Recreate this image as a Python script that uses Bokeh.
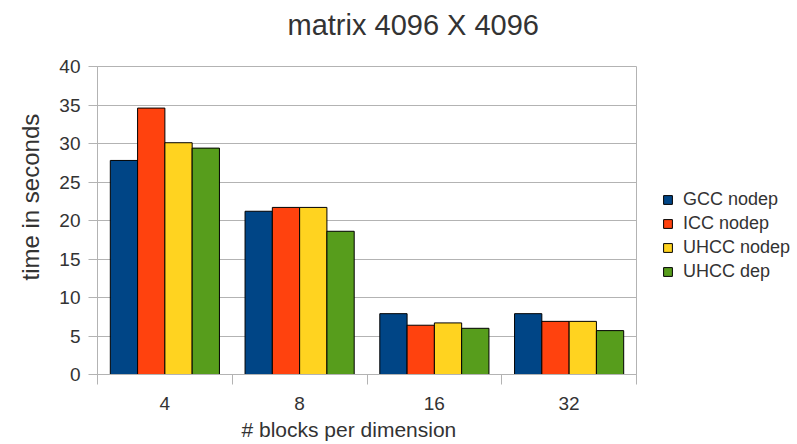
import numpy as np
from bokeh.plotting import figure
from bokeh.models import (ColumnDataSource, Legend, LegendItem, FixedTicker, Range1d,
                          Title, LinearAxis)
from bokeh.embed import file_html
from bokeh.resources import INLINE

categories = ["4", "8", "16", "32"]
gcc_nodep = [27.8, 21.2, 7.9, 7.9]
icc_nodep = [34.6, 21.7, 6.4, 6.9]
uhcc_nodep = [30.1, 21.7, 6.7, 6.9]
uhcc_dep = [29.4, 18.6, 6.0, 5.7]
series_names = ["GCC nodep", "ICC nodep", "UHCC nodep", "UHCC dep"]
series_values = [gcc_nodep, icc_nodep, uhcc_nodep, uhcc_dep]
colors = ["#004586", "#ff420e", "#ffd320", "#579d1c"]
y_ticks = list(range(0, 41, 5))
chart_title = "matrix 4096 X 4096"

FONT = "Liberation Sans"
TEXT = "#333333"
GRID = "#b3b3b3"

p = figure(frame_width=539, frame_height=308,
           x_range=Range1d(0, len(categories)), y_range=Range1d(0, 40),
           output_backend="svg", toolbar_location=None,
           min_border_left=97, min_border_top=66, min_border_bottom=70,
           min_border_right=161)
p.title_location = None
p.background_fill_color = "white"
p.border_fill_color = "white"
p.outline_line_color = GRID
p.outline_line_width = 1

# invisible spacer next to the frame, then the chart title outside it
spacer = LinearAxis(ticker=FixedTicker(ticks=[2.0], minor_ticks=[]),
                    major_label_overrides={2.0: ""},
                    axis_line_color=None, major_tick_line_color=None,
                    minor_tick_line_color=None, major_tick_out=17, major_tick_in=0,
                    minor_tick_out=0, minor_tick_in=0, major_label_standoff=0,
                    major_label_text_font_size="1px", major_label_text_alpha=0)
p.add_layout(spacer, "above")
main_title = Title(text=chart_title, align="left", offset=190, vertical_align="top",
                   text_font=FONT, text_font_size="29px", text_font_style="normal",
                   text_color=TEXT, standoff=14)
p.add_layout(main_title, "above")

bar_w = 0.2025
offsets = [-1.5 * bar_w, -0.5 * bar_w, 0.5 * bar_w, 1.5 * bar_w]
centers = np.arange(len(categories)) + 0.5
items = []
for name, vals, col, off in zip(series_names, series_values, colors, offsets):
    src = ColumnDataSource(dict(x=centers + off, top=vals))
    r = p.vbar(x="x", top="top", width=bar_w, bottom=0, source=src,
               fill_color=col, line_color="#000000", line_width=1)
    items.append(LegendItem(label=name, renderers=[r]))

# x axis
xax = p.below[0]
xax.ticker = FixedTicker(ticks=list(centers), minor_ticks=list(range(len(categories) + 1)))
xax.major_label_overrides = {float(c): lab for c, lab in zip(centers, categories)}
xax.major_tick_line_color = None
xax.major_tick_out = 0
xax.major_tick_in = 0
xax.minor_tick_line_color = GRID
xax.minor_tick_out = 10
xax.minor_tick_in = 0
xax.axis_line_color = GRID
xax.major_label_text_font = FONT
xax.major_label_text_font_size = "19px"
xax.major_label_text_color = TEXT
xax.major_label_standoff = 12
p.xgrid.visible = False

# y axis
yax = p.left[0]
yax.ticker = FixedTicker(ticks=y_ticks, minor_ticks=[])
yax.major_tick_line_color = GRID
yax.major_tick_out = 9
yax.major_tick_in = 0
yax.minor_tick_line_color = None
yax.axis_line_color = GRID
yax.major_label_text_font = FONT
yax.major_label_text_font_size = "19px"
yax.major_label_text_color = TEXT
yax.major_label_standoff = 8
p.ygrid.grid_line_color = GRID
p.ygrid.grid_line_width = 1

# axis titles as side titles (allows off-centre placement like the reference)
ytitle = Title(text="time in seconds", align="left", offset=94,
               text_font=FONT, text_font_size="24px", text_font_style="normal",
               text_color=TEXT, standoff=26)
p.add_layout(ytitle, "left")
xtitle = Title(text="# blocks per dimension", align="left", offset=144,
               text_font=FONT, text_font_size="21px", text_font_style="normal",
               text_color=TEXT, standoff=6)
p.add_layout(xtitle, "below")

legend = Legend(items=items, location=(26, 92))
legend.margin = 0
legend.padding = 0
legend.border_line_color = None
legend.background_fill_alpha = 0
legend.glyph_width = 11
legend.glyph_height = 11
legend.label_standoff = 10
legend.spacing = 3
legend.label_text_font = FONT
legend.label_text_font_size = "18px"
legend.label_text_color = TEXT
p.add_layout(legend, "right")

open("out.html", "w").write(file_html(p, INLINE))
